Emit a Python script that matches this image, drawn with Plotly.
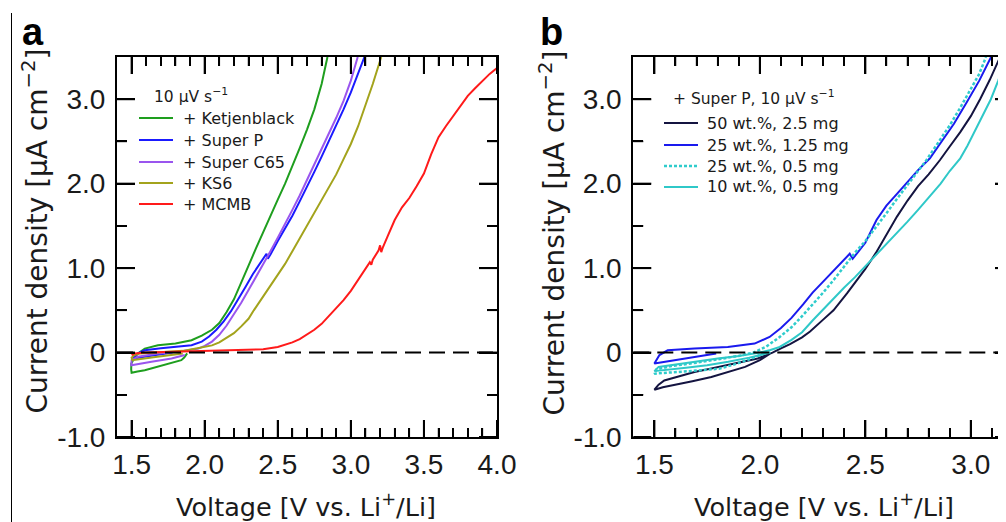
import plotly.graph_objects as go

# ---------------- Panel a data (10 µV s^-1) ----------------
ketjen_V = [1.88, 1.86, 1.84, 1.78, 1.72, 1.65, 1.59, 1.54, 1.50, 1.497, 1.498, 1.52, 1.543, 1.59, 1.68, 1.80,
            1.91, 1.98, 2.05, 2.10, 2.15, 2.20, 2.25, 2.30, 2.35, 2.40, 2.45, 2.50, 2.55, 2.60, 2.65, 2.70,
            2.75, 2.80, 2.84]
ketjen_I = [-0.01, -0.06, -0.09, -0.12, -0.15, -0.18, -0.21, -0.225, -0.24, -0.20, -0.13, -0.06, -0.01, 0.047,
            0.086, 0.107, 0.146, 0.20, 0.27, 0.35, 0.48, 0.63, 0.82, 1.03, 1.23, 1.43, 1.62, 1.81, 2.00, 2.20,
            2.42, 2.64, 2.88, 3.18, 3.50]

superp_V = [1.78, 1.70, 1.62, 1.55, 1.51, 1.509, 1.543, 1.59, 1.70, 1.80, 1.91, 1.98, 2.03, 2.08, 2.13, 2.18,
            2.23, 2.28, 2.33, 2.38, 2.423, 2.432, 2.45, 2.50, 2.55, 2.60, 2.65, 2.70, 2.75, 2.80, 2.85,
            2.90, 2.95, 3.00, 3.05, 3.093]
superp_I = [0.00, -0.02, -0.04, -0.06, -0.075, -0.07, -0.01, 0.027, 0.05, 0.066, 0.086, 0.13, 0.19, 0.27, 0.37,
            0.49, 0.63, 0.78, 0.93, 1.06, 1.17, 1.11, 1.16, 1.32, 1.47, 1.62, 1.79, 1.96, 2.14, 2.32,
            2.50, 2.70, 2.88, 3.08, 3.30, 3.50]

c65_V = [1.864, 1.773, 1.636, 1.498, 1.50, 1.543, 1.68, 1.80, 1.957, 2.00, 2.05, 2.10, 2.15, 2.20, 2.25, 2.30,
         2.35, 2.40, 2.45, 2.50, 2.55, 2.60, 2.65, 2.70, 2.75, 2.80, 2.85, 2.90, 2.95, 3.00, 3.047]
c65_I = [-0.03, -0.07, -0.11, -0.15, -0.09, -0.05, -0.012, 0.005, 0.047, 0.08, 0.13, 0.21, 0.32, 0.45, 0.59,
         0.74, 0.89, 1.04, 1.20, 1.36, 1.52, 1.69, 1.86, 2.04, 2.22, 2.40, 2.58, 2.78, 2.98, 3.22, 3.50]

ks6_V = [1.85, 1.75, 1.65, 1.55, 1.505, 1.50, 1.52, 1.56, 1.65, 1.75, 1.85, 1.95, 2.00, 2.05, 2.10, 2.15, 2.20,
         2.25, 2.30, 2.336, 2.40, 2.45, 2.50, 2.55, 2.60, 2.65, 2.70, 2.75, 2.80, 2.85, 2.90, 2.95, 3.00, 3.05,
         3.10, 3.15, 3.208]
ks6_I = [-0.01, -0.03, -0.055, -0.08, -0.09, -0.06, -0.03, -0.01, 0.00, 0.01, 0.02, 0.05, 0.065, 0.085, 0.12,
         0.17, 0.23, 0.31, 0.40, 0.50, 0.66, 0.79, 0.92, 1.05, 1.20, 1.35, 1.51, 1.66, 1.81, 1.95, 2.11, 2.29,
         2.47, 2.68, 2.92, 3.18, 3.50]

mcmb_V = [1.50, 1.52, 1.60, 1.80, 2.00, 2.20, 2.40, 2.50, 2.55, 2.60, 2.65, 2.70, 2.75, 2.80, 2.85, 2.90, 2.95,
          3.00, 3.05, 3.10, 3.13, 3.14, 3.15, 3.19, 3.20, 3.208, 3.22, 3.25, 3.30, 3.35, 3.40, 3.45, 3.50, 3.55,
          3.60, 3.65, 3.70, 3.75, 3.80, 3.85, 3.90, 3.95, 4.00]
mcmb_I = [-0.03, -0.01, 0.00, 0.01, 0.015, 0.025, 0.04, 0.065, 0.09, 0.12, 0.16, 0.21, 0.27, 0.34, 0.43, 0.52,
          0.62, 0.73, 0.86, 0.99, 1.07, 1.04, 1.10, 1.21, 1.27, 1.19, 1.25, 1.37, 1.57, 1.72, 1.83, 1.97, 2.12,
          2.35, 2.55, 2.68, 2.80, 2.93, 3.04, 3.13, 3.22, 3.30, 3.37]

# ---------------- Panel b data (+ Super P, 10 µV s^-1) ----------------
w50_V = [2.05, 2.00, 1.93, 1.85, 1.77, 1.68, 1.60, 1.54, 1.50, 1.52, 1.547, 1.60, 1.69, 1.77, 1.848, 1.92, 1.99,
         2.03, 2.06, 2.10, 2.143, 2.20, 2.238, 2.30, 2.349, 2.413, 2.45, 2.50, 2.55, 2.60, 2.65, 2.70, 2.75, 2.80,
         2.854, 2.90, 2.95, 3.00, 3.044, 3.09, 3.139]
w50_I = [-0.01, -0.09, -0.17, -0.23, -0.29, -0.34, -0.38, -0.41, -0.44, -0.38, -0.33, -0.29, -0.23, -0.19, -0.15,
         -0.11, -0.07, -0.03, 0.00, 0.05, 0.10, 0.18, 0.25, 0.39, 0.50, 0.70, 0.82, 0.99, 1.18, 1.40, 1.61, 1.80,
         1.97, 2.11, 2.28, 2.44, 2.61, 2.80, 3.00, 3.23, 3.50]

w25a_V = [1.793, 1.69, 1.58, 1.50, 1.524, 1.563, 1.69, 1.848, 1.975, 2.046, 2.10, 2.15, 2.205, 2.25, 2.30, 2.363,
          2.40, 2.426, 2.44, 2.47, 2.50, 2.553, 2.60, 2.65, 2.70, 2.75, 2.806, 2.86, 2.92, 2.98, 3.04, 3.096]
w25a_I = [-0.01, -0.05, -0.10, -0.13, -0.03, 0.027, 0.047, 0.066, 0.106, 0.185, 0.29, 0.41, 0.57, 0.71, 0.84,
          1.01, 1.10, 1.17, 1.11, 1.20, 1.30, 1.57, 1.74, 1.88, 2.02, 2.16, 2.30, 2.49, 2.71, 2.96, 3.22, 3.50]

w25b_V = [2.02, 1.95, 1.88, 1.81, 1.72, 1.62, 1.50, 1.51, 1.58, 1.70, 1.80, 1.90, 1.97, 2.03, 2.094, 2.15, 2.20,
          2.252, 2.30, 2.35, 2.41, 2.45, 2.50, 2.553, 2.60, 2.65, 2.70, 2.75, 2.79, 2.85, 2.90, 2.95, 3.00, 3.04,
          3.072]
w25b_I = [-0.01, -0.08, -0.14, -0.19, -0.21, -0.23, -0.25, -0.20, -0.16, -0.12, -0.08, -0.04, 0.00, 0.07, 0.185,
          0.30, 0.43, 0.57, 0.71, 0.86, 1.05, 1.18, 1.32, 1.49, 1.65, 1.82, 1.99, 2.15, 2.28, 2.50, 2.69, 2.90,
          3.12, 3.30, 3.50]

w10_V = [2.05, 1.95, 1.85, 1.75, 1.65, 1.57, 1.50, 1.52, 1.60, 1.70, 1.80, 1.90, 2.00, 2.05, 2.094, 2.15, 2.20,
         2.25, 2.315, 2.35, 2.40, 2.45, 2.50, 2.55, 2.60, 2.65, 2.70, 2.75, 2.80, 2.857, 2.90, 2.95, 2.984, 3.03,
         3.06, 3.095, 3.13, 3.168, 3.19]
w10_I = [0.00, -0.06, -0.11, -0.15, -0.18, -0.20, -0.22, -0.17, -0.14, -0.11, -0.07, -0.04, 0.00, 0.03, 0.066,
         0.15, 0.24, 0.38, 0.55, 0.65, 0.77, 0.89, 1.02, 1.15, 1.28, 1.42, 1.55, 1.69, 1.83, 2.00, 2.15, 2.30,
         2.45, 2.68, 2.84, 3.00, 3.22, 3.50, 3.65]

names_a = ["+ Ketjenblack", "+ Super P", "+ Super C65", "+ KS6", "+ MCMB"]
colors_a = ["#1e9e1e", "#1a1aff", "#9a55ee", "#a3a31c", "#ff1a1a"]
series_a = [(ketjen_V, ketjen_I), (superp_V, superp_I), (c65_V, c65_I), (ks6_V, ks6_I), (mcmb_V, mcmb_I)]

names_b = ["50 wt.%, 2.5 mg", "25 wt.%, 1.25 mg", "25 wt.%, 0.5 mg", "10 wt.%, 0.5 mg"]
colors_b = ["#141440", "#1a1aee", "#2fcccc", "#2fc8c8"]
dashes_b = ["solid", "solid", "3px,2px", "solid"]
series_b = [(w50_V, w50_I), (w25a_V, w25a_I), (w25b_V, w25b_I), (w10_V, w10_I)]

# tick values (major / minor) for the frame tick combs
x_major_a = [1.5, 2.0, 2.5, 3.0, 3.5, 4.0]
x_major_b = [1.5, 2.0, 2.5, 3.0]
y_major = [-1, 0, 1, 2, 3]
y_minor = [-0.5, 0.5, 1.5, 2.5]
y_label_alias = {"0.0": "0", "\u22121.0": "-1.0"}

TICKFONT = "Liberation Sans, Arial, sans-serif"
FONT = "DejaVu Sans, sans-serif"
TXT = "#1a1a1a"

# page is offset by the 8px default body margin -> work in figure pixels (= page pixels - 8)
OFF = 8
W, H = 1006, 522
L, T = 117 - OFF, 57 - OFF
BOTTOM = 437 - OFF
R = 1
B = H - BOTTOM
PW = W - L - R
PH = H - T - B


def px_x(p):
    return (p - OFF - L) / PW


def px_y(p):
    return (H - B - (p - OFF)) / PH


fig = go.Figure()

for (v, i), n, c in zip(series_a, names_a, colors_a):
    fig.add_trace(go.Scatter(x=v, y=i, mode="lines", name=n, line=dict(color=c, width=2),
                             xaxis="x", yaxis="y", showlegend=False))

for (v, i), n, c, d in zip(series_b, names_b, colors_b, dashes_b):
    fig.add_trace(go.Scatter(x=v, y=i, mode="lines", name=n,
                             line=dict(color=c, width=2.5 if d != "solid" else 2, dash=d),
                             xaxis="x2", yaxis="y2", showlegend=False))


def xax(domain, rng, anchor):
    return dict(domain=domain, range=rng, anchor=anchor, tick0=1.5, dtick=0.5, tickformat=".1f",
                ticks="inside", ticklen=17, tickwidth=2, tickcolor="black",
                showline=True, linecolor="black", linewidth=2, mirror="ticks", ticklabelstandoff=1,
                minor=dict(ticks="inside", ticklen=9, tickwidth=1.5, tickcolor="black", dtick=0.1, tick0=1.5),
                tickfont=dict(size=28, color=TXT, family=TICKFONT),
                automargin=False, showgrid=False, zeroline=False)


def yax(anchor):
    return dict(range=[-1, 3.5], anchor=anchor, tick0=0, dtick=1, tickformat=".1f", labelalias=y_label_alias,
                ticks="inside", ticklen=18, tickwidth=2, tickcolor="black",
                showline=True, linecolor="black", linewidth=2, mirror="ticks", ticklabelstandoff=4,
                minor=dict(ticks="inside", ticklen=10, tickwidth=1.5, tickcolor="black", dtick=0.5, tick0=0),
                tickfont=dict(size=28, color=TXT, family=TICKFONT),
                automargin=False, showgrid=False, zeroline=False)


PANEL_W = {"x": 489 - L, "x2": 1005 - (633.3 - OFF)}

fig.update_layout(
    width=W, height=H, margin=dict(l=L, r=R, t=T, b=B, autoexpand=False),
    paper_bgcolor="white", plot_bgcolor="white", showlegend=False,
    font=dict(family=FONT, color=TXT),
    xaxis=xax([0, px_x(497)], [1.4, 4.0], "y"),
    yaxis=yax("x"),
    xaxis2=xax([px_x(633.3), 1], [1.4, 3.2], "y2"),
    yaxis2=yax("x2"),
)

# zero reference lines (dashed) across each panel
for xr, yr in [("x domain", "y"), ("x2 domain", "y2")]:
    fig.add_shape(type="line", xref=xr, yref=yr, x0=0, x1=1, y0=0, y1=0,
                  line=dict(color="black", width=2, dash="16px,8px"))


# explicit inside tick combs on all four sides of each frame
def tick_combs(xr, yr, x_major, x_hi):
    pw = PANEL_W[xr]
    n_minor = int(round((x_hi - 1.5) / 0.1))
    x_all = [round(1.5 + 0.1 * k, 2) for k in range(n_minor + 1)]
    for xv in x_all:
        major = any(abs(xv - m) < 1e-6 for m in x_major)
        ln = (17 if major else 9) / PH
        wd = 2 if major else 1.5
        for y0, y1 in ((0, ln), (1, 1 - ln)):
            fig.add_shape(type="line", xref=xr, yref=yr + " domain", x0=xv, x1=xv, y0=y0, y1=y1,
                          line=dict(color="black", width=wd))
    for yv in y_major + y_minor:
        major = yv in y_major
        ln = (18 if major else 10) / pw
        wd = 2 if major else 1.5
        for x0, x1 in ((0, ln), (1, 1 - ln)):
            fig.add_shape(type="line", xref=xr + " domain", yref=yr, x0=x0, x1=x1, y0=yv, y1=yv,
                          line=dict(color="black", width=wd))


tick_combs("x", "y", x_major_a, 4.0)
tick_combs("x2", "y2", x_major_b, 3.2)

# axis titles (as annotations for exact placement)
XT = "Voltage [V vs. Li<sup>+</sup>/Li]"
YT = "Current density [µA cm<sup>−2</sup>]"
for cx in (306, 823.5):
    fig.add_annotation(xref="paper", yref="paper", x=px_x(cx), y=px_y(505), xanchor="center", yanchor="middle",
                       text=XT, showarrow=False, font=dict(size=25.5, color=TXT, family=FONT))
for cx, cy in ((36, 231.5), (552.5, 233)):
    fig.add_annotation(xref="paper", yref="paper", x=px_x(cx), y=px_y(cy), xanchor="center", yanchor="middle",
                       text=YT, textangle=-90, showarrow=False, font=dict(size=28, color=TXT, family=FONT))


# manual legends
def add_legend(title, tx, ty, names, colors, dashes, x0, x1, xt, rows):
    fig.add_annotation(xref="paper", yref="paper", x=px_x(tx), y=px_y(ty), xanchor="left", yanchor="middle",
                       text=title, showarrow=False, font=dict(size=15.5, color=TXT, family=FONT))
    for n, c, d, ry in zip(names, colors, dashes, rows):
        fig.add_shape(type="line", xref="paper", yref="paper", x0=px_x(x0), x1=px_x(x1), y0=px_y(ry),
                      y1=px_y(ry), line=dict(color=c, width=2.5 if d != "solid" else 2, dash=d))
        fig.add_annotation(xref="paper", yref="paper", x=px_x(xt), y=px_y(ry), xanchor="left",
                           yanchor="middle", text=n, showarrow=False,
                           font=dict(size=16, color=TXT, family=FONT))


add_legend("10 µV s<sup>−1</sup>", 152, 95, names_a, colors_a, ["solid"] * 5, 139, 173, 181,
           [118, 140, 162, 183, 204])
add_legend("+ Super P, 10 µV s<sup>−1</sup>", 671, 97, names_b, colors_b, dashes_b, 664, 698, 705,
           [123, 145, 166, 187])

# panel letters
fig.add_annotation(xref="paper", yref="paper", x=px_x(20), y=px_y(32), xanchor="left", yanchor="middle",
                   text="<b>a</b>", showarrow=False, font=dict(size=38, color="black", family=TICKFONT))
fig.add_annotation(xref="paper", yref="paper", x=px_x(538), y=px_y(32), xanchor="left", yanchor="middle",
                   text="<b>b</b>", showarrow=False, font=dict(size=38, color="black", family=TICKFONT))

# thin separator line at left
fig.add_shape(type="line", xref="paper", yref="paper", x0=px_x(11.5), x1=px_x(11.5), y0=px_y(13),
              y1=px_y(530), line=dict(color="black", width=1))

fig.write_html("out.html")
